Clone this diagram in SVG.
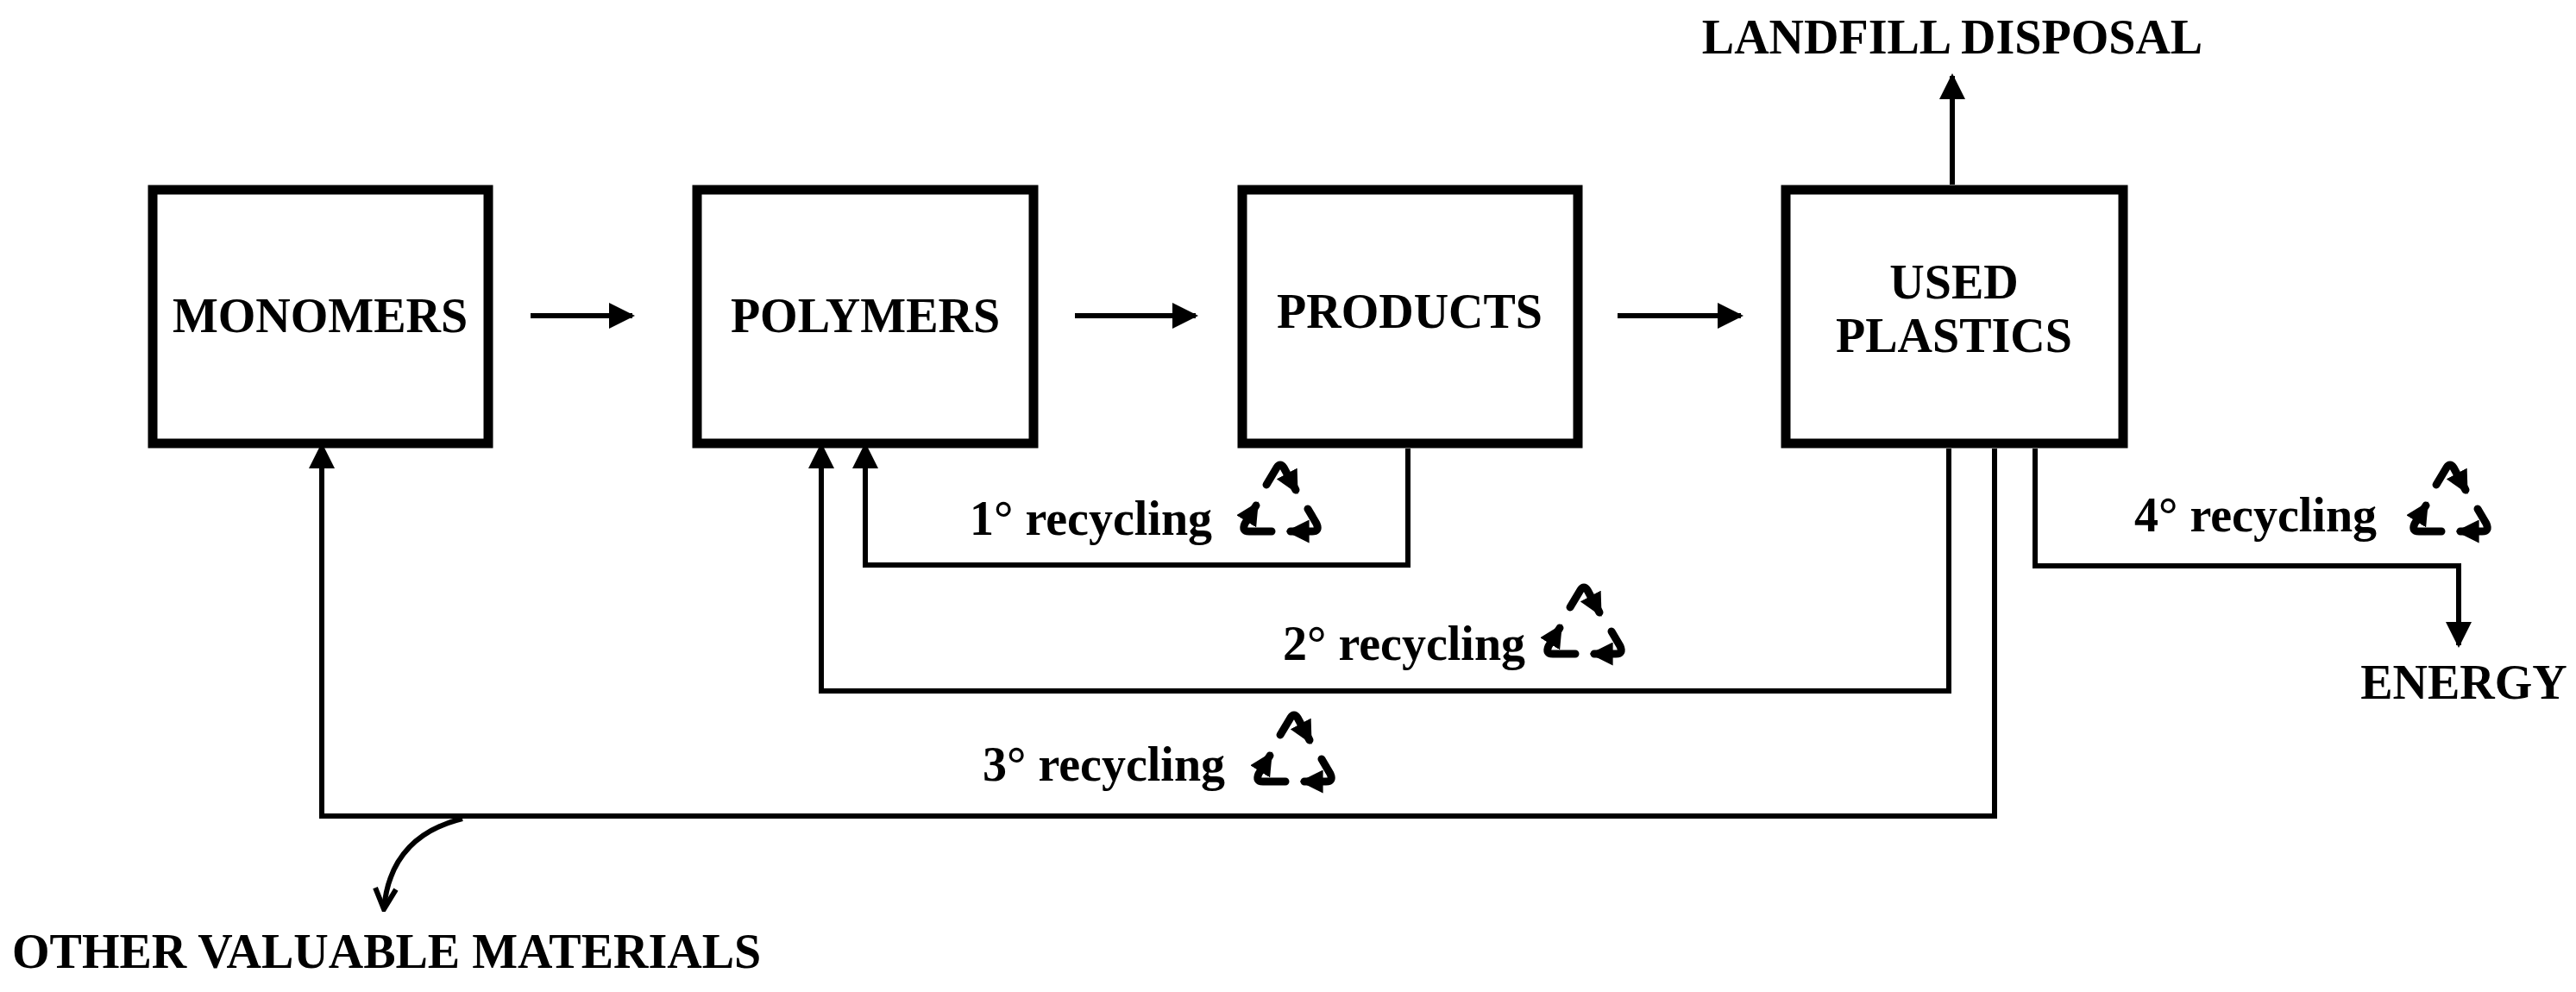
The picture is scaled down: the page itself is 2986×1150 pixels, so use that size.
<svg xmlns="http://www.w3.org/2000/svg" width="2986" height="1150" viewBox="0 0 2986 1150">
<style>
.box{fill:#fff;stroke:#000;stroke-width:11}
.t{font-family:"Liberation Serif","Times New Roman",serif;font-weight:bold;font-size:56px;fill:#000}
.c{text-anchor:middle}
.ln{fill:none;stroke:#000;stroke-width:6}
.rc{fill:none;stroke:#000;stroke-width:9;stroke-linejoin:round;stroke-linecap:round}
</style>
<defs>
<marker id="ah" viewBox="0 0 10 10" refX="9" refY="5" markerWidth="5" markerHeight="5" orient="auto" markerUnits="strokeWidth"><path d="M0,0 L10,5 L0,10 Z" fill="#000"/></marker>
<marker id="sa" viewBox="0 0 10 10" refX="8" refY="5" markerWidth="3" markerHeight="3" orient="auto" markerUnits="strokeWidth"><path d="M0,0 L10,5 L0,10 Z" fill="#000"/></marker>
<marker id="va" viewBox="0 0 10 10" refX="9" refY="5" markerWidth="5" markerHeight="5" orient="auto" markerUnits="strokeWidth"><path d="M1,1 L9,5 L1,9" fill="none" stroke="#000" stroke-width="2"/></marker>
<symbol id="rec" viewBox="0 0 100 100">
<path class="rc" d="M34,32 L46,12 Q50,6 54,12 L68,38" marker-end="url(#sa)"/>
<path class="rc" d="M82,60 L92,77 Q96,86 87,86 L62,86" marker-end="url(#sa)"/>
<path class="rc" d="M40,86 L14,86 Q5,86 9,77 L22,56" marker-end="url(#sa)"/>
</symbol>
</defs>
<g id="monomers"><rect class="box" x="177" y="220" width="389" height="294"/><text class="t c" x="371" y="385">MONOMERS</text></g>
<g id="polymers"><rect class="box" x="808" y="220" width="390" height="294"/><text class="t c" x="1003" y="385">POLYMERS</text></g>
<g id="products"><rect class="box" x="1440" y="220" width="389" height="294"/><text class="t c" x="1634" y="380">PRODUCTS</text></g>
<g id="used"><rect class="box" x="2070" y="220" width="391" height="294"/><text class="t c" x="2265" y="346">USED</text><text class="t c" x="2265" y="408">PLASTICS</text></g>
<g id="landfill"><text class="t c" x="2263" y="62">LANDFILL DISPOSAL</text></g>
<g id="energy"><text class="t c" x="2856" y="810">ENERGY</text></g>
<g id="other"><text class="t" x="14" y="1122">OTHER VALUABLE MATERIALS</text></g>
<g id="connectors">
<line class="ln" x1="615" y1="366" x2="733" y2="366" marker-end="url(#ah)"/>
<line class="ln" x1="1246" y1="366" x2="1386" y2="366" marker-end="url(#ah)"/>
<line class="ln" x1="1875" y1="366" x2="2018" y2="366" marker-end="url(#ah)"/>
<line class="ln" x1="2263" y1="214" x2="2263" y2="88" marker-end="url(#ah)"/>
<polyline class="ln" points="1632,520 1632,655 1003,655 1003,516" marker-end="url(#ah)"/>
<polyline class="ln" points="2259,520 2259,801 952,801 952,516" marker-end="url(#ah)"/>
<polyline class="ln" points="2312,520 2312,946 373,946 373,516" marker-end="url(#ah)"/>
<polyline class="ln" points="2359,520 2359,656 2850,656 2850,748" marker-end="url(#ah)"/>
<path class="ln" d="M536,949 Q452,970 445,1054" marker-end="url(#va)"/>
</g>
<g id="labels">
<text class="t" x="1124" y="620">1° recycling</text><use href="#rec" x="1432" y="530" width="104" height="100"/>
<text class="t" x="1487" y="765">2° recycling</text><use href="#rec" x="1784" y="672" width="104" height="100"/>
<text class="t" x="1139" y="905">3° recycling</text><use href="#rec" x="1448" y="820" width="104" height="100"/>
<text class="t" x="2474" y="616">4° recycling</text><use href="#rec" x="2788" y="530" width="104" height="100"/>
</g>
</svg>
